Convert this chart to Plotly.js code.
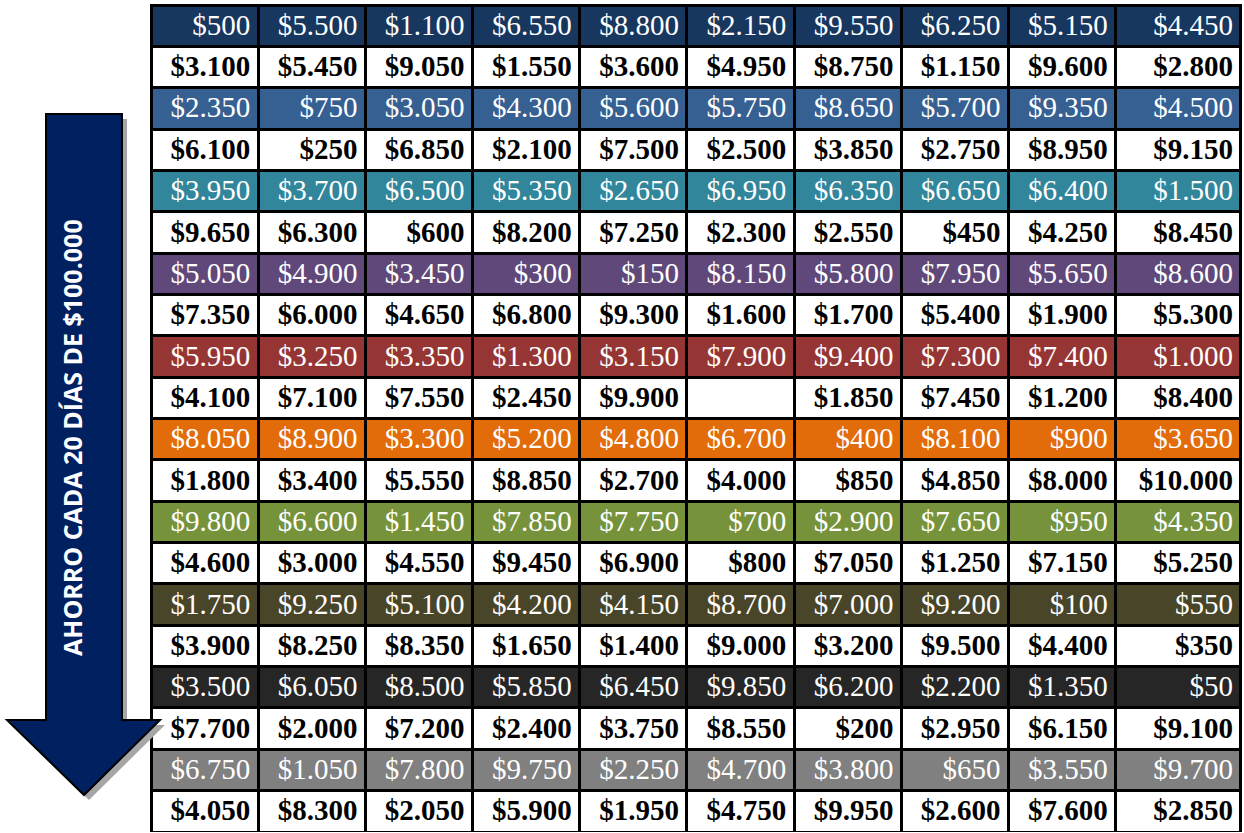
<!DOCTYPE html>
<html><head><meta charset="utf-8">
<script src="https://cdn.plot.ly/plotly-3.0.1.min.js"></script>
<style>html,body{margin:0;padding:0;background:#fff;}#chart{width:1244px;height:833px;}</style>
</head><body><div id="chart"></div>
<script>
// Savings amounts, one array per table row (null = empty cell)
const row01 = [500, 5500, 1100, 6550, 8800, 2150, 9550, 6250, 5150, 4450];
const row02 = [3100, 5450, 9050, 1550, 3600, 4950, 8750, 1150, 9600, 2800];
const row03 = [2350, 750, 3050, 4300, 5600, 5750, 8650, 5700, 9350, 4500];
const row04 = [6100, 250, 6850, 2100, 7500, 2500, 3850, 2750, 8950, 9150];
const row05 = [3950, 3700, 6500, 5350, 2650, 6950, 6350, 6650, 6400, 1500];
const row06 = [9650, 6300, 600, 8200, 7250, 2300, 2550, 450, 4250, 8450];
const row07 = [5050, 4900, 3450, 300, 150, 8150, 5800, 7950, 5650, 8600];
const row08 = [7350, 6000, 4650, 6800, 9300, 1600, 1700, 5400, 1900, 5300];
const row09 = [5950, 3250, 3350, 1300, 3150, 7900, 9400, 7300, 7400, 1000];
const row10 = [4100, 7100, 7550, 2450, 9900, null, 1850, 7450, 1200, 8400];
const row11 = [8050, 8900, 3300, 5200, 4800, 6700, 400, 8100, 900, 3650];
const row12 = [1800, 3400, 5550, 8850, 2700, 4000, 850, 4850, 8000, 10000];
const row13 = [9800, 6600, 1450, 7850, 7750, 700, 2900, 7650, 950, 4350];
const row14 = [4600, 3000, 4550, 9450, 6900, 800, 7050, 1250, 7150, 5250];
const row15 = [1750, 9250, 5100, 4200, 4150, 8700, 7000, 9200, 100, 550];
const row16 = [3900, 8250, 8350, 1650, 1400, 9000, 3200, 9500, 4400, 350];
const row17 = [3500, 6050, 8500, 5850, 6450, 9850, 6200, 2200, 1350, 50];
const row18 = [7700, 2000, 7200, 2400, 3750, 8550, 200, 2950, 6150, 9100];
const row19 = [6750, 1050, 7800, 9750, 2250, 4700, 3800, 650, 3550, 9700];
const row20 = [4050, 8300, 2050, 5900, 1950, 4750, 9950, 2600, 7600, 2850];
const rows = [row01,row02,row03,row04,row05,row06,row07,row08,row09,row10,
              row11,row12,row13,row14,row15,row16,row17,row18,row19,row20];
// Band colour of each odd row (even rows are white)
const bandColors = ['#17375E','#366092','#31869B','#60497A','#963634',
                    '#E26B0A','#76933C','#494529','#262626','#808080'];
const arrowLabel = 'AHORRO CADA 20 DÍAS DE $100.000';

function fmt(v){
  if (v === null) return '';
  return '$' + String(v).replace(/\B(?=(\d{3})+(?!\d))/g, '.');
}
const nCols = rows[0].length;
const rowFill = rows.map((r,i)=> i%2===0 ? bandColors[i/2] : '#FFFFFF');
const rowFont = rows.map((r,i)=> i%2===0 ? '#FFFFFF' : '#000000');
const rowWeight = rows.map((r,i)=> i%2===0 ? 'normal' : 'bold');
// first row is drawn as the table header, the rest as cells
const hVals=[], values=[], fills=[], fonts=[], weights=[];
for (let c=0;c<nCols;c++){
  hVals.push([fmt(rows[0][c])]);
  values.push(rows.slice(1).map(r=>fmt(r[c])));
  fills.push(rowFill.slice(1));
  fonts.push(rowFont.slice(1));
  weights.push(rowWeight.slice(1));
}
const W=1244, H=833;
const X=(px)=>px/W, Y=(py)=>1-py/H;
const rowH = 41.35;
const cellFont = 'Liberation Serif, serif';
const cellSize = 29;

const trace = {
  type:'table',
  domain:{x:[X(151),X(1241)], y:[Y(832),Y(5)]},
  columnwidth:[107,107,107,107,107,107,107,107,107,125],
  header:{
    values: hVals,
    align:'right',
    height: rowH,
    fill:{color: rowFill[0]},
    line:{color:'#000000', width:3},
    font:{family:cellFont, size:cellSize, color:rowFont[0], weight:'normal'}
  },
  cells:{
    values: values,
    align:'right',
    height: rowH,
    fill:{color:fills},
    line:{color:'#000000', width:3},
    font:{family:cellFont, size:cellSize, color:fonts, weight:weights}
  }
};

function arrowPath(dx,dy){
  const pts=[[46,114],[122,114],[122,720],[160,720],[84,795],[7,720],[46,720]];
  return 'M'+pts.map(p=>X(p[0]+dx)+','+Y(p[1]+dy)).join(' L')+' Z';
}
const layout = {
  width:W, height:H,
  margin:{l:0,r:0,t:0,b:0},
  paper_bgcolor:'#FFFFFF',
  showlegend:false,
  shapes:[
    {type:'path', xref:'paper', yref:'paper', path:arrowPath(5,5), fillcolor:'#A6A6A6', line:{width:0}, layer:'above'},
    {type:'path', xref:'paper', yref:'paper', path:arrowPath(0,0), fillcolor:'#002060', line:{color:'#000000', width:2}, layer:'above'}
  ],
  annotations:[
    {xref:'paper', yref:'paper', x:X(72), y:Y(438), text:'<b>'+arrowLabel+'</b>', showarrow:false, textangle:-90,
     font:{family:'Open Sans, sans-serif', size:25, color:'#FFFFFF'}, xanchor:'center', yanchor:'middle'}
  ]
};
Plotly.newPlot('chart',[trace],layout,{displayModeBar:false});
</script></body></html>
